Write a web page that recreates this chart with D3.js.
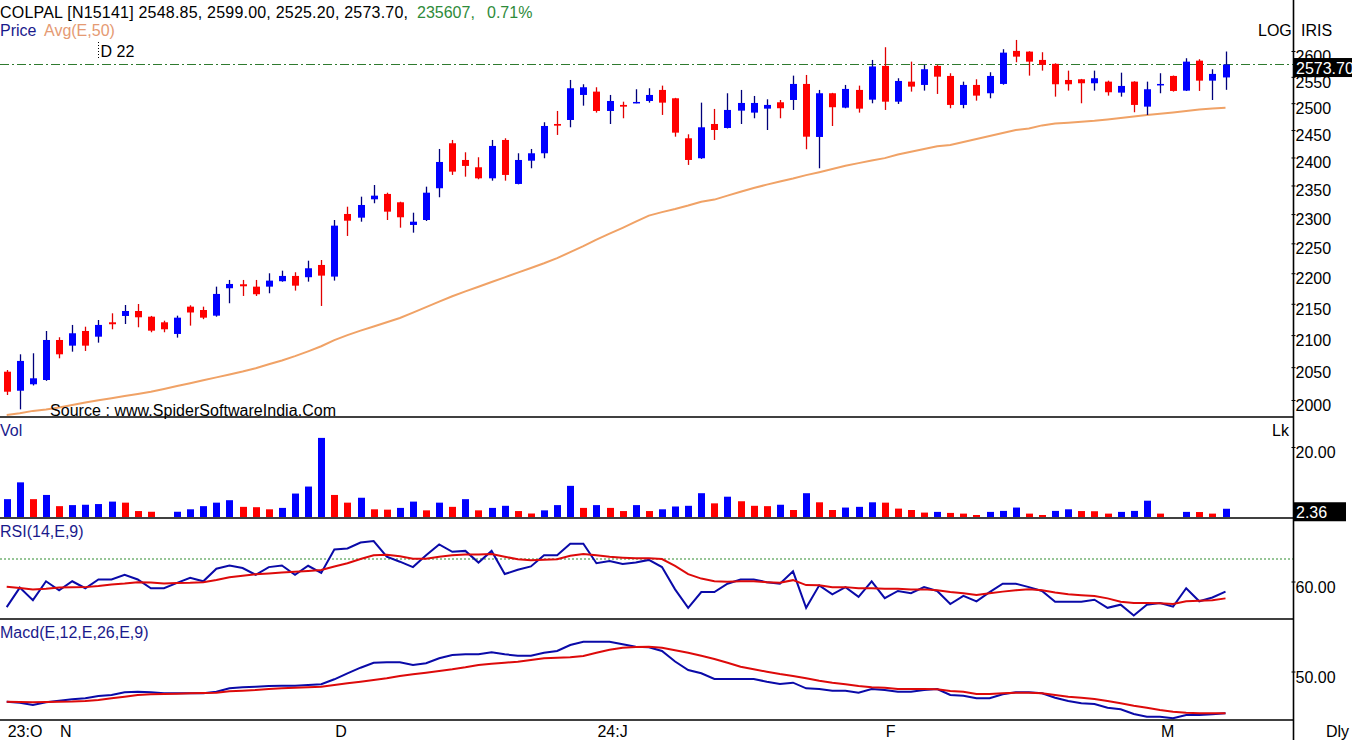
<!DOCTYPE html>
<html><head><meta charset="utf-8">
<script src="https://cdn.jsdelivr.net/npm/d3@7/dist/d3.min.js"></script>
<style>
body{margin:0;background:#fff;}
svg{display:block;font-family:Tahoma,"Liberation Sans",Arial,sans-serif;}
</style></head><body>
<svg id="c" width="1352" height="740"></svg>
<script>
// ---------------- DATA ----------------
const symbol = "COLPAL", code = "N15141", lastVolume = 235607;
const dates = [
"2023-10-26","2023-10-27","2023-10-30","2023-10-31",
"2023-11-01","2023-11-02","2023-11-03","2023-11-06","2023-11-07","2023-11-08","2023-11-09","2023-11-10","2023-11-12","2023-11-13","2023-11-15","2023-11-16","2023-11-17","2023-11-20","2023-11-21","2023-11-22","2023-11-23","2023-11-24","2023-11-28","2023-11-29","2023-11-30",
"2023-12-01","2023-12-04","2023-12-05","2023-12-06","2023-12-07","2023-12-08","2023-12-11","2023-12-12","2023-12-13","2023-12-14","2023-12-15","2023-12-18","2023-12-19","2023-12-20","2023-12-21","2023-12-22","2023-12-26","2023-12-27","2023-12-28","2023-12-29",
"2024-01-01","2024-01-02","2024-01-03","2024-01-04","2024-01-05","2024-01-08","2024-01-09","2024-01-10","2024-01-11","2024-01-12","2024-01-15","2024-01-16","2024-01-17","2024-01-18","2024-01-19","2024-01-20","2024-01-23","2024-01-24","2024-01-25","2024-01-29","2024-01-30","2024-01-31",
"2024-02-01","2024-02-02","2024-02-05","2024-02-06","2024-02-07","2024-02-08","2024-02-09","2024-02-12","2024-02-13","2024-02-14","2024-02-15","2024-02-16","2024-02-19","2024-02-20","2024-02-21","2024-02-22","2024-02-23","2024-02-26","2024-02-27","2024-02-28","2024-02-29",
"2024-03-01","2024-03-02","2024-03-04","2024-03-05","2024-03-06","2024-03-07"];
const open = [2043.0,2014.0,2023.8,2030.3,2092.3,2083.4,2106.5,2097.5,2120.3,2130.4,
2138.4,2129.3,2120.3,2101.8,2145.4,2140.0,2130.9,2175.3,2181.8,2177.9,
2177.9,2186.8,2195.5,2193.4,2213.7,2194.4,2300.2,2293.8,2325.7,2335.1,
2320.5,2281.3,2289.8,2345.1,2425.8,2395.5,2382.4,2362.7,2431.8,2352.7,
2394.2,2407.6,2461.2,2468.6,2515.5,2521.8,2485.4,2496.7,2500.4,2504.1,
2525.0,2509.2,2434.9,2398.6,2461.2,2453.8,2486.0,2482.3,2489.7,2501.7,
2506.0,2536.4,2437.3,2518.7,2491.6,2525.0,2506.6,2571.0,2502.8,2540.8,
2534.5,2571.0,2551.7,2496.7,2534.5,2518.7,2536.4,2600.2,2598.8,2582.6,
2575.0,2544.0,2545.3,2537.7,2540.8,2519.9,2540.8,2493.5,2533.9,2551.7,
2523.7,2581.2,2542.7,2548.85];
const high = [2045.6,2069.9,2071.5,2106.5,2096.6,2116.1,2113.3,2124.0,2134.7,2148.1,
2149.7,2130.5,2122.9,2130.9,2147.6,2145.4,2177.9,2188.9,2188.9,2188.9,
2199.9,2204.2,2201.6,2220.8,2222.0,2289.8,2312.8,2330.3,2350.9,2337.3,
2321.5,2302.4,2347.9,2415.4,2431.8,2409.4,2400.4,2431.8,2434.9,2407.6,
2415.4,2464.4,2485.4,2544.0,2535.8,2530.1,2515.5,2502.8,2526.3,2528.2,
2533.2,2510.0,2442.2,2501.0,2489.2,2518.7,2525.0,2513.6,2507.3,2506.0,
2552.3,2553.6,2525.0,2519.5,2534.5,2533.2,2582.6,2607.4,2547.3,2579.3,
2573.1,2573.1,2556.9,2540.8,2545.3,2558.8,2603.5,2621.7,2599.5,2597.6,
2576.0,2561.9,2546.0,2561.9,2542.7,2558.0,2541.5,2540.8,2556.9,2552.5,
2585.9,2584.0,2564.6,2599.00];
const low = [2007.5,1986.0,2022.0,2029.0,2063.7,2074.0,2075.1,2088.1,2109.2,2117.6,
2112.4,2104.5,2104.5,2096.0,2115.0,2125.3,2129.3,2150.9,2162.7,2162.7,
2167.1,2186.0,2171.4,2186.1,2146.5,2187.8,2262.5,2286.9,2318.8,2289.8,
2276.6,2268.1,2288.1,2329.3,2368.7,2365.6,2361.0,2358.5,2358.5,2352.0,
2380.6,2398.6,2441.0,2455.1,2495.3,2482.3,2461.2,2471.8,2499.8,2501.0,
2478.0,2437.8,2386.6,2397.5,2431.8,2453.0,2461.2,2471.8,2450.1,2471.8,
2487.3,2414.9,2380.6,2457.5,2490.5,2482.3,2499.8,2487.3,2498.5,2521.8,
2523.7,2517.4,2490.5,2490.5,2504.7,2509.2,2535.0,2578.1,2552.3,2561.9,
2512.3,2523.7,2499.8,2523.7,2514.2,2512.3,2483.0,2478.0,2518.7,2521.8,
2523.0,2523.1,2506.0,2525.20];
const close = [2012.5,2059.6,2032.9,2092.3,2069.9,2102.9,2083.4,2116.1,2117.2,2138.4,
2128.3,2107.0,2109.2,2127.7,2136.0,2127.7,2166.0,2182.3,2178.5,2165.5,
2187.8,2195.5,2179.5,2208.2,2196.0,2280.1,2288.6,2315.8,2332.1,2304.2,
2294.5,2286.9,2337.3,2391.9,2374.6,2384.8,2362.7,2420.9,2368.7,2395.5,
2407.6,2457.5,2458.1,2528.2,2530.1,2485.4,2504.1,2493.5,2502.3,2515.5,
2501.0,2445.2,2395.5,2455.1,2450.1,2487.3,2500.4,2500.4,2496.7,2490.5,
2536.4,2437.8,2518.7,2492.4,2526.9,2489.7,2570.0,2502.8,2542.1,2531.3,
2564.6,2550.3,2496.7,2534.5,2514.2,2551.7,2596.8,2589.0,2579.3,2573.1,
2535.8,2535.8,2537.7,2547.3,2520.6,2532.6,2496.7,2526.3,2536.4,2523.1,
2579.3,2542.7,2555.6,2573.70];
const ema50 = [1977.6,1980.3,1983.7,1985.8,1988.9,1992.5,1996.1,1999.6,2002.7,2005.9,
2009.0,2012.4,2016.6,2021.2,2025.4,2029.8,2034.3,2038.7,2043.2,2048.3,
2054.4,2060.3,2067.0,2074.5,2082.5,2092.0,2100.0,2107.0,2113.7,2120.4,
2127.1,2135.8,2144.7,2153.6,2162.3,2170.1,2177.8,2185.5,2193.2,2201.0,
2208.7,2216.5,2225.1,2235.1,2245.2,2256.2,2266.4,2276.4,2286.9,2297.4,
2303.4,2308.8,2314.8,2321.5,2325.2,2332.2,2338.9,2345.6,2351.5,2357.0,
2362.3,2368.4,2373.6,2379.2,2385.1,2389.8,2394.5,2398.8,2405.3,2410.2,
2415.2,2420.2,2422.7,2428.2,2433.6,2439.0,2444.5,2450.0,2452.9,2458.6,
2461.9,2463.6,2465.3,2467.0,2469.5,2472.3,2475.1,2477.9,2480.3,2482.7,
2485.2,2488.0,2489.8,2491.3];
// volume in lakhs
const volume = [5.1,9.9,5.1,6.3,3.1,3.4,3.5,3.7,4.4,4.1,
1.7,1.5,0,1.5,2.2,3.1,4.1,4.8,2.9,2.8,
2.2,2.6,6.7,8.7,22.6,6.3,4.1,5.5,2.2,2.1,
2.6,4.4,1.9,4.1,2.9,5.1,1.9,2.6,3.2,1.7,
1.0,1.9,3.4,8.9,2.6,3.4,2.6,1.7,3.4,1.7,
2.2,3.0,3.2,6.8,3.9,5.8,4.5,3.2,3.1,3.5,
2.0,6.8,4.2,2.0,2.7,2.9,4.2,4.1,2.4,2.0,
1.26,1.46,1.17,0.97,0.57,1.46,1.74,2.7,0.97,0.57,
1.74,2.2,1.7,1.65,0.97,1.46,1.74,4.66,0.97,0,
1.46,1.42,0.97,2.356];
const rsi = [48.6,57.3,51.7,60.1,56.1,60.1,57.0,60.9,60.9,63.0,
60.9,57.0,57.0,59.4,61.6,60.1,65.7,67.1,66.0,63.0,
66.4,67.1,63.0,67.0,63.8,74.2,74.7,77.3,78.0,71.0,
68.8,66.4,71.7,76.5,73.2,73.6,68.4,73.6,63.3,65.2,
66.7,71.7,71.7,76.8,76.8,68.1,69.1,67.8,68.4,69.6,
66.4,56.5,48.3,55.3,55.3,59.0,60.9,60.9,59.7,59.0,
64.5,48.3,58.3,54.3,57.5,53.2,60.1,52.6,55.8,54.8,
57.5,55.8,50.0,53.6,51.2,55.3,59.0,59.0,57.5,55.8,
51.0,51.0,51.0,51.9,48.3,49.7,44.9,49.7,50.4,48.8,
57.0,51.2,52.9,55.5];
const rsiSignal = [57.7,57.1,56.5,56.8,57.3,57.4,57.5,58.0,58.7,59.1,
59.7,59.6,59.1,59.3,59.4,59.7,60.7,61.9,62.6,63.2,
63.6,64.0,64.3,64.7,65.1,66.7,68.1,70.0,71.7,71.9,
71.2,70.1,70.1,71.0,71.7,72.0,72.0,72.2,71.0,69.9,
69.4,69.7,69.9,71.4,72.2,71.7,71.0,70.6,70.3,70.3,
70.0,66.9,63.3,61.3,60.1,59.9,60.1,60.1,59.7,59.4,
60.6,58.4,58.3,57.5,57.5,57.0,57.0,56.8,56.8,56.5,
56.5,56.1,55.3,54.8,54.0,54.8,55.5,56.1,56.5,56.1,
55.1,54.3,53.9,53.6,52.5,51.0,50.4,50.4,50.3,50.0,
51.2,51.4,51.7,52.5];
const macd = [19.8,18.8,16.5,19.2,20.8,22.2,23.2,25.5,26.5,29.2,
29.8,29.2,28.2,28.2,28.2,28.2,29.8,33.2,34.2,34.8,
35.5,35.8,35.8,36.5,37.2,42.2,48.2,53.8,58.8,59.2,
59.2,56.5,58.2,63.2,66.5,67.2,67.2,69.2,67.2,65.8,
65.8,68.8,70.5,76.5,79.8,79.8,79.8,77.2,74.8,74.2,
70.5,60.0,51.5,48.2,42.5,42.5,42.5,42.5,39.8,37.5,
38.8,33.2,32.5,30.8,30.8,28.8,32.5,31.5,29.8,29.8,
31.5,32.5,26.5,25.8,23.2,23.2,27.2,29.2,29.2,28.2,
23.8,20.5,18.2,17.5,13.8,12.2,7.5,4.8,4.8,3.2,
6.5,6.5,7.2,8.2];
const macdSignal = [19.8,19.5,19.2,19.5,19.8,20.0,20.5,21.5,23.2,24.8,
26.5,27.2,27.5,27.8,28.2,28.5,28.8,30.2,30.8,31.5,
32.5,33.2,33.8,34.2,34.8,36.5,38.2,39.8,41.5,43.2,
45.5,47.2,48.8,50.5,52.2,54.2,56.5,57.8,58.8,59.8,
61.5,63.2,63.8,64.2,65.5,68.8,71.8,73.8,74.5,74.8,
73.8,71.3,68.8,65.8,62.5,58.8,54.8,52.2,49.8,47.5,
45.5,43.2,40.8,38.8,37.2,35.5,34.2,33.8,32.5,32.5,
32.5,32.2,30.5,29.8,27.5,27.5,28.2,28.8,28.8,28.2,
26.5,24.8,23.8,22.5,20.5,18.2,15.8,13.8,11.5,9.8,
8.8,8.2,8.2,8.2];
const priceTicks = [2000,2050,2100,2150,2200,2250,2300,2350,2400,2450,2500,2550,2600];
const volTicks = [20];
const rsiTicks = [60];
const rsiLevel = 70;
const macdTicks = [50];
const markerDate = "2023-11-06", markerLabel = "D 22";
const monthLetters = ["J","F","M","A","M","J","J","A","S","O","N","D"];

// ---------------- CHART ----------------
const svg = d3.select("#c");
svg.append("rect").attr("width",1352).attr("height",740).attr("fill","#fff");
const AX = 1293.5;
const n = dates.length;
const x = d3.scalePoint().domain(dates).range([6.7, 1225.5]);
const yP = d3.scaleLog().domain([2000,2600]).range([400,51]);
const yV = d3.scaleLinear().domain([0,20]).range([517,447]);
const yR = d3.scaleLinear().domain([60,70]).range([581.5,559]);
const yM = d3.scaleLinear().domain([0,50]).range([721.5,671.5]);
const BLUE = "#0000ff", RED = "#ff0000", NAVY = "#1a1a8c";
const FS = 16;

// header
const last = n-1;
const f2 = d3.format(".2f");
const pct = (close[last]-close[last-1])/close[last-1]*100;
svg.append("text").attr("x",0).attr("y",18).attr("font-size",FS).attr("fill","#000")
  .attr("textLength",408).attr("lengthAdjust","spacing")
  .text(`${symbol} [${code}] ${f2(open[last])}, ${f2(high[last])}, ${f2(low[last])}, ${f2(close[last])},`);
svg.append("text").attr("x",417).attr("y",18).attr("font-size",FS).attr("fill","#2e8b3a").text(`${lastVolume},`);
svg.append("text").attr("x",487).attr("y",18).attr("font-size",FS).attr("fill","#2e8b3a").text(`${f2(pct)}%`);
svg.append("text").attr("x",0).attr("y",36).attr("font-size",FS).attr("fill",NAVY).text("Price");
svg.append("text").attr("x",44).attr("y",36).attr("font-size",FS).attr("fill","#e59a73").text("Avg(E,50)");
svg.append("text").attr("x",1258).attr("y",36).attr("font-size",FS).attr("fill","#000").text("LOG");
svg.append("text").attr("x",1301).attr("y",36).attr("font-size",FS).attr("fill","#000").text("IRIS");

// marker
const mx = Math.round(x(markerDate))+0.5;
svg.append("line").attr("x1",mx).attr("x2",mx).attr("y1",42).attr("y2",58)
  .attr("stroke","#000").attr("stroke-width",1).attr("stroke-dasharray","1,2");
svg.append("text").attr("x",mx+2).attr("y",57).attr("font-size",FS).attr("fill","#000").text(markerLabel);

// last price dash-dot line
svg.append("line").attr("x1",0).attr("x2",AX).attr("y1",yP(close[last])).attr("y2",yP(close[last]))
  .attr("stroke","#2f7a2f").attr("stroke-width",1.2).attr("stroke-dasharray","9,3,2,3");

// EMA line
svg.append("path").datum(ema50)
  .attr("d", d3.line().x((d,i)=>x(dates[i])).y(d=>yP(d)))
  .attr("fill","none").attr("stroke","#f0a266").attr("stroke-width",2);

// candles
const cg = svg.append("g");
dates.forEach((d,i)=>{
  const up = close[i] >= open[i];
  const cx = Math.round(x(d));
  cg.append("line").attr("x1",cx+0.5).attr("x2",cx+0.5)
    .attr("y1",yP(high[i])).attr("y2",yP(low[i]))
    .attr("stroke", up ? "#00007a" : "#e00000").attr("stroke-width",1.3);
  const top = yP(Math.max(open[i],close[i])), bot = yP(Math.min(open[i],close[i]));
  cg.append("rect").attr("x",cx-3).attr("width",7)
    .attr("y",top).attr("height",Math.max(1.5, bot-top))
    .attr("fill", up ? BLUE : RED);
});

// source text
svg.append("text").attr("x",50).attr("y",416).attr("font-size",FS).attr("fill","#000")
  .attr("textLength",286).attr("lengthAdjust","spacing")
  .text("Source : www.SpiderSoftwareIndia.Com");

// volume bars
const vg = svg.append("g");
dates.forEach((d,i)=>{
  if (!volume[i]) return;
  const upV = i===0 || volume[i] > volume[i-1];
  const cx = Math.round(x(d));
  vg.append("rect").attr("x",cx-3).attr("width",7)
    .attr("y",yV(volume[i])).attr("height",yV(0)-yV(volume[i]))
    .attr("fill", upV ? BLUE : RED);
});
svg.append("text").attr("x",0).attr("y",436).attr("font-size",FS).attr("fill",NAVY).text("Vol");
svg.append("text").attr("x",1272).attr("y",436).attr("font-size",FS).attr("fill","#000").text("Lk");

// RSI
svg.append("line").attr("x1",0).attr("x2",AX).attr("y1",yR(rsiLevel)).attr("y2",yR(rsiLevel))
  .attr("stroke","#2e8b2e").attr("stroke-width",1).attr("stroke-dasharray","2,2");
const lineR = d3.line().x((d,i)=>x(dates[i])).y(d=>yR(d));
svg.append("path").datum(rsi).attr("d",lineR).attr("fill","none").attr("stroke","#0a0aa8").attr("stroke-width",2);
svg.append("path").datum(rsiSignal).attr("d",lineR).attr("fill","none").attr("stroke","#dd0a0a").attr("stroke-width",2);
svg.append("text").attr("x",0).attr("y",537).attr("font-size",FS).attr("fill",NAVY).text("RSI(14,E,9)");

// MACD
const lineM = d3.line().x((d,i)=>x(dates[i])).y(d=>yM(d));
svg.append("path").datum(macd).attr("d",lineM).attr("fill","none").attr("stroke","#0a0aa8").attr("stroke-width",2);
svg.append("path").datum(macdSignal).attr("d",lineM).attr("fill","none").attr("stroke","#dd0a0a").attr("stroke-width",2);
svg.append("text").attr("x",0).attr("y",638).attr("font-size",FS).attr("fill",NAVY).text("Macd(E,12,E,26,E,9)");

// separators & axis line
[417,518,619,720].forEach(y=>{
  svg.append("line").attr("x1",0).attr("x2",AX).attr("y1",y).attr("y2",y).attr("stroke","#000").attr("stroke-width",1.6);
});
svg.append("line").attr("x1",AX).attr("x2",AX).attr("y1",0).attr("y2",740).attr("stroke","#000").attr("stroke-width",1.6);

// right axes
function rightAxis(scale, ticks, fmt){
  const g = svg.append("g").attr("transform",`translate(${AX-2},0)`)
    .call(d3.axisRight(scale).tickValues(ticks).tickSize(4).tickFormat(fmt));
  g.select(".domain").remove();
  g.selectAll(".tick line").attr("stroke","#000");
  g.selectAll(".tick text").attr("x",4).attr("dy",10.5)
    .attr("font-size",FS).attr("font-family","Tahoma, 'Liberation Sans', Arial, sans-serif").attr("fill","#000");
  return g;
}
rightAxis(yP, priceTicks, d3.format("d"));
rightAxis(yV, volTicks, d3.format(".2f"));
rightAxis(yR, rsiTicks, d3.format(".2f"));
rightAxis(yM, macdTicks, d3.format(".2f"));

// value boxes
function valueBox(yv, label, w){
  svg.append("rect").attr("x",AX+0.5).attr("y",yv-6.5).attr("width",w).attr("height",19).attr("fill","#000");
  svg.append("text").attr("x",AX+2.5).attr("y",yv+9).attr("font-size",FS).attr("fill","#fff").text(label);
}
valueBox(yP(close[last]), f2(close[last]), 60);
valueBox(yV(volume[last]), f2(volume[last]), 52);

// x axis labels
const xg = svg.append("g");
dates.forEach((d,i)=>{
  const dt = new Date(d+"T00:00:00");
  const prev = i>0 ? new Date(dates[i-1]+"T00:00:00") : null;
  if (prev && prev.getMonth()===dt.getMonth()) return;
  const yr = (!prev || prev.getFullYear()!==dt.getFullYear()) ? String(dt.getFullYear()).slice(2)+":" : "";
  xg.append("text").attr("x",x(d)+1).attr("y",737).attr("font-size",FS).attr("fill","#000")
    .text(yr+monthLetters[dt.getMonth()]);
});
svg.append("text").attr("x",1326).attr("y",737).attr("font-size",FS).attr("fill","#000").text("Dly");
</script>
</body></html>
